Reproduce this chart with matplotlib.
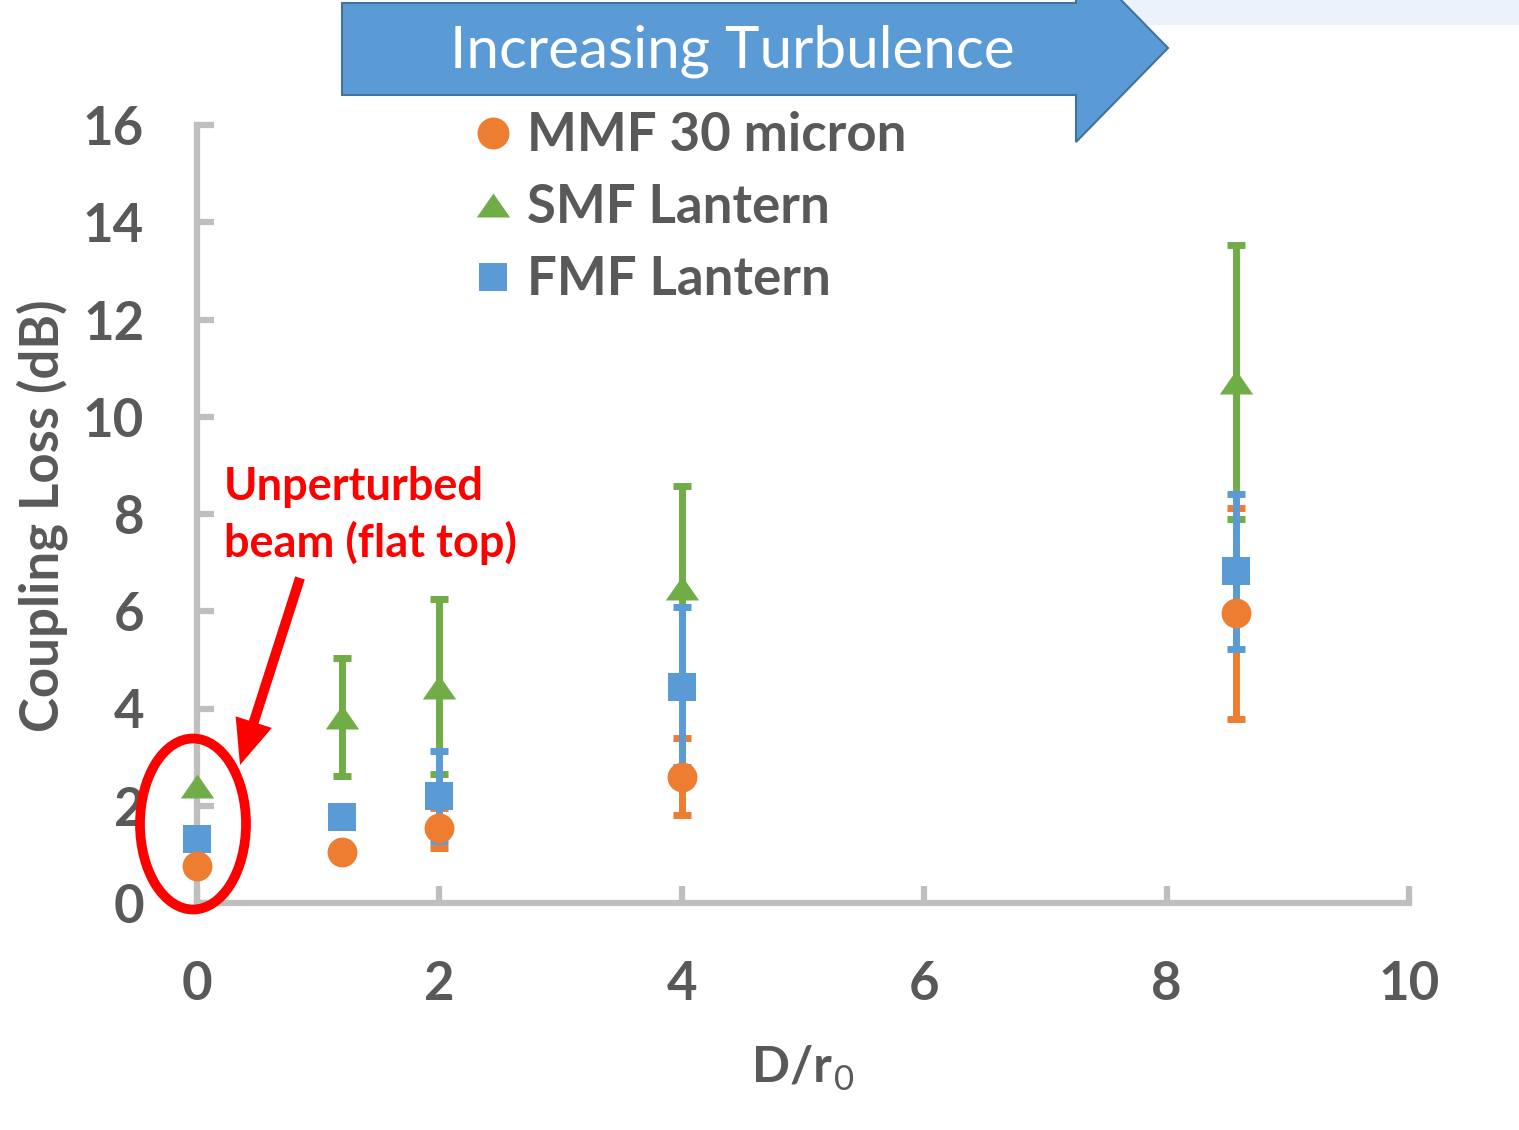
import matplotlib
matplotlib.use("Agg")
import matplotlib.pyplot as plt
from matplotlib.lines import Line2D
from matplotlib.patches import Polygon, Ellipse, Rectangle
import numpy as np

plt.rcParams["font.family"] = ["Lato", "DejaVu Sans"]

W, H = 1519, 1130

# Turbulence strength D/r0 for each measurement group
d_over_r0 = [0, 1.2, 2, 4, 8.57]

# Coupling loss (dB) and +/- spread for each fibre type
mmf_loss = [0.76, 1.05, 1.54, 2.60, 5.96]
mmf_err = [0, 0, 0.41, 0.80, 2.17]
smf_loss = [2.40, 3.83, 4.45, 6.47, 10.72]
smf_err = [0, 1.21, 1.80, 2.11, 2.82]
fmf_loss = [1.31, 1.77, 2.20, 4.44, 6.82]
fmf_err = [0, 0, 0.93, 1.65, 1.60]

labels = ["MMF 30 micron", "SMF Lantern", "FMF Lantern"]
x_ticks = [0, 2, 4, 6, 8, 10]
y_ticks = [0, 2, 4, 6, 8, 10, 12, 14, 16]

ORANGE = "#ED7D31"
GREEN = "#70AD47"
BLUE = "#5B9BD5"
GREY_TXT = "#595959"
GREY_AX = "#BFBFBF"


def fx(px):
    return px / W


def fy(py):
    return 1 - py / H


fig = plt.figure(figsize=(W / 100, H / 100), dpi=100)
ax = fig.add_axes([fx(197), fy(903), (1409 - 197) / W, (903 - 125) / H])
ax.set_xlim(0, 10)
ax.set_ylim(0, 16)

for s in ["top", "right"]:
    ax.spines[s].set_visible(False)
for s in ["left", "bottom"]:
    ax.spines[s].set_color(GREY_AX)
    ax.spines[s].set_linewidth(4.5)
    ax.spines[s].set_capstyle("projecting")

ax.set_xticks(x_ticks)
ax.set_yticks(y_ticks)
ax.tick_params(direction="in", length=12, width=4.5, color=GREY_AX,
               labelcolor=GREY_TXT, labelsize=38)
ax.tick_params(axis="x", pad=41)
ax.tick_params(axis="y", pad=38)
for lab in ax.get_xticklabels() + ax.get_yticklabels():
    lab.set_fontweight("bold")

# squat triangle marker (wider than tall)
tri = [(0, 0.72), (-1, -0.72), (1, -0.72), (0, 0.72)]

series = [
    (mmf_loss, mmf_err, ORANGE, "o", 21.5, 2.2, 3.3),
    (smf_loss, smf_err, GREEN, tri, 24, 2.0, 3.0),
    (fmf_loss, fmf_err, BLUE, "s", 20, 2.4, 3.1),
]

x = np.array(d_over_r0, dtype=float)
for y, e, c, m, ms, zb, zm in series:
    y = np.array(y)
    e = np.array(e)
    k = e > 0
    ax.errorbar(x[k], y[k], yerr=e[k], fmt="none", ecolor=c, elinewidth=5,
                capsize=6.5, capthick=5, zorder=zb, clip_on=False)
    ax.plot(x, y, ls="none", marker=m, ms=ms, color=c, mec=c, mew=0,
            zorder=zm, clip_on=False)

# Legend (markers only)
handles = [
    Line2D([], [], ls="none", marker="o", ms=23, color=ORANGE, mew=0),
    Line2D([], [], ls="none", marker=tri, ms=24, color=GREEN, mew=0),
    Line2D([], [], ls="none", marker="s", ms=20, color=BLUE, mew=0),
]
leg = ax.legend(handles, labels, loc="upper left",
                bbox_to_anchor=(fx(474.5), fy(111)), bbox_transform=fig.transFigure,
                frameon=False, borderpad=0, borderaxespad=0,
                handlelength=0.7, handletextpad=0.29, labelspacing=0.44,
                prop={"size": 38, "weight": "bold"})
for t in leg.get_texts():
    t.set_color(GREY_TXT)

# Axis titles
fig.text(fx(42), fy(516), "Coupling Loss (dB)", rotation=90, ha="center",
         va="center", fontsize=38, fontweight="bold", color=GREY_TXT)
xl = fig.text(fx(752), fy(1082), "D/r", ha="left", va="baseline",
              fontsize=36, fontweight="bold", color=GREY_TXT)
fig.canvas.draw()
bb = xl.get_window_extent()
fig.text((bb.x1 + 2) / W, fy(1090), "0", ha="left", va="baseline",
         fontsize=25, color=GREY_TXT)

# Light banner strip in the top-right corner
fig.add_artist(Rectangle((fx(1120), fy(25)), fx(1519 - 1120), 25 / H,
                         transform=fig.transFigure, facecolor="#EBF2FB",
                         edgecolor="none", zorder=0))

# Block arrow "Increasing Turbulence"
arrow_px = [(342, 3), (1076, 3), (1076, -46), (1168, 48), (1076, 142),
            (1076, 95), (342, 95)]
fig.add_artist(Polygon([(fx(a), fy(b)) for a, b in arrow_px], closed=True,
                       transform=fig.transFigure, facecolor=BLUE,
                       edgecolor="#41719C", linewidth=1.5, zorder=1,
                       clip_on=False))
fig.text(fx(732), fy(51), "Increasing Turbulence", ha="center", va="center",
         color="white", fontsize=42, zorder=2)

# Red annotation: ellipse around the zero-turbulence group and pointer
fig.add_artist(Ellipse((fx(193), fy(824)), 106 / W, 171 / H,
                       transform=fig.transFigure, facecolor="none",
                       edgecolor="#FF0000", linewidth=7, zorder=5))

tail = np.array([300.0, 578.0])
tip = np.array([240.0, 765.0])
u = (tip - tail) / np.linalg.norm(tip - tail)
n = np.array([u[1], -u[0]])
hw, hl, sw = 19.0, 45.0, 5.0
base = tip - hl * u
pts = [tail + sw * n, base + sw * n, base + hw * n, tip, base - hw * n,
       base - sw * n, tail - sw * n]
fig.add_artist(Polygon([(fx(p[0]), fy(p[1])) for p in pts], closed=True,
                       transform=fig.transFigure, facecolor="#FF0000",
                       edgecolor="none", zorder=5))

fig.text(fx(224), fy(500), "Unperturbed", ha="left", va="baseline",
         color="#FF0000", fontsize=32.5, fontweight="bold")
fig.text(fx(224), fy(557), "beam (flat top)", ha="left", va="baseline",
         color="#FF0000", fontsize=32.5, fontweight="bold")

fig.savefig("out.png", dpi=100)
